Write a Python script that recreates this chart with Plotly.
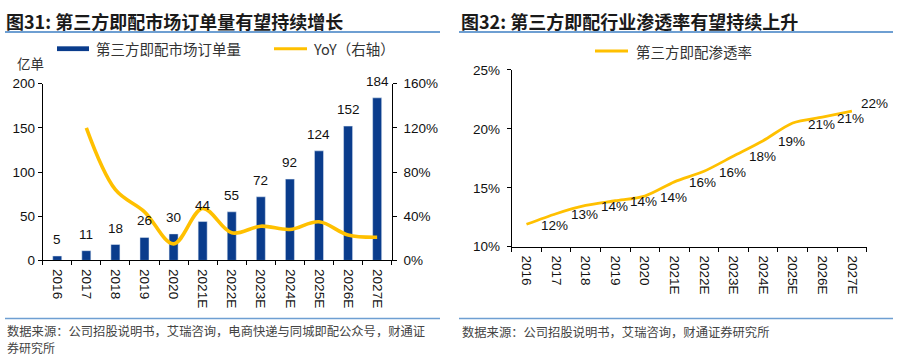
import plotly.graph_objects as go

# ---------------- data ----------------
years = ["2016", "2017", "2018", "2019", "2020", "2021E", "2022E",
         "2023E", "2024E", "2025E", "2026E", "2027E"]
orders = [5, 11, 18, 26, 30, 44, 55, 72, 92, 124, 152, 184]          # 亿单
yoy_years = years[1:]
yoy = [120, 64, 44, 15, 47, 25, 31, 28, 35, 23, 21]                    # %
penetration = [11.9, 12.8, 13.5, 13.9, 14.3, 15.5, 16.4, 17.7, 19.0, 20.5, 21.0, 21.5]
pen_labels = ["12%", "13%", "14%", "14%", "14%", "16%", "16%", "18%", "19%", "21%", "21%", "22%"]
left_ticks = [0, 50, 100, 150, 200]
yoy_ticks = [0, 40, 80, 120, 160]
pen_ticks = [10, 15, 20, 25]

W, H = 900, 364
def px(x): return x / W
def py(y): return 1 - y / H

NAVY = "#0A3C8C"
GOLD = "#FFC000"
RULE = "#6E9FD2"
LATIN = "Liberation Sans, Arial, sans-serif"
CJK = "Noto Sans CJK SC, sans-serif"

fig = go.Figure()

fig.add_trace(go.Bar(x=years, y=orders, marker_color=NAVY, width=0.31,
                     xaxis="x", yaxis="y", showlegend=False))
fig.add_trace(go.Scatter(x=yoy_years, y=yoy, mode="lines",
                         line=dict(color=GOLD, width=3.6, shape="spline", smoothing=1.0),
                         xaxis="x", yaxis="y2", showlegend=False))
fig.add_trace(go.Scatter(x=years, y=penetration, mode="lines",
                         line=dict(color=GOLD, width=2.8, shape="spline", smoothing=0.8),
                         xaxis="x3", yaxis="y3", showlegend=False))

axis_common = dict(showline=True, linecolor="#000", linewidth=1, ticks="outside",
                   ticklen=4, tickcolor="#000", showgrid=False, zeroline=False,
                   tickfont=dict(family=LATIN, size=13.5, color="#111"))

n = len(years)
fig.update_layout(
    width=W, height=H, margin=dict(l=0, r=0, t=0, b=0),
    paper_bgcolor="white", plot_bgcolor="white", showlegend=False,
    xaxis=dict(domain=[px(42.7), px(391.7)], anchor="y", type="category",
               categoryorder="array", categoryarray=years, range=[-0.5, n - 0.5],
               tickangle=90, tickson="boundaries", ticklabelstandoff=5, **axis_common),
    yaxis=dict(domain=[py(264.3), py(80)], anchor="x", range=[0, 200],
               tickvals=left_ticks, ticktext=[str(v) for v in left_ticks], **axis_common),
    yaxis2=dict(overlaying="y", side="right", anchor="x", range=[0, 160],
                tickvals=yoy_ticks, ticktext=[f"{v}%" for v in yoy_ticks],
                ticklabelstandoff=4, **axis_common),
    xaxis3=dict(domain=[px(511.7), px(866.7)], anchor="y3", type="category",
                categoryorder="array", categoryarray=years, range=[-0.5, n - 0.5],
                tickangle=90, tickson="boundaries", ticklabelstandoff=5, **axis_common),
    yaxis3=dict(domain=[py(250), py(65.7)], anchor="x3", range=[10, 25],
                tickvals=pen_ticks, ticktext=[f"{v}%" for v in pen_ticks],
                ticklabelstandoff=4, **axis_common),
)

ann = []
# bar value labels (category index positions)
for i, v in enumerate(orders):
    ann.append(dict(x=i, y=v, xref="x", yref="y", text=str(v), showarrow=False,
                    yanchor="bottom", yshift=7,
                    font=dict(family=LATIN, size=13.5, color="#111")))
# penetration labels
for i, (v, t) in enumerate(zip(penetration, pen_labels)):
    last = i == n - 1
    ann.append(dict(x=i, y=v, xref="x3", yref="y3", text=t, showarrow=False,
                    xanchor="left", yanchor="middle",
                    xshift=7 if last else 13, yshift=8 if last else -1,
                    font=dict(family=LATIN, size=13.5, color="#111")))

def text(x, y, s, size, anchor="left", weight=None, color="#222", family=CJK, yanchor="middle"):
    f = dict(family=family, size=size, color=color)
    if weight:
        f["weight"] = weight
    ann.append(dict(x=px(x), y=py(y), xref="paper", yref="paper", text=s,
                    showarrow=False, xanchor=anchor, yanchor=yanchor, align="left", font=f))

# titles
text(4, 15, "图31: 第三方即配市场订单量有望持续增长", 18, weight="bold", color="#1a1a1a")
text(459, 15, "图32: 第三方即配行业渗透率有望持续上升", 18, weight="bold", color="#1a1a1a")
# legends
text(94, 43.5, "第三方即配市场订单量", 14.5, color="#333")
text(311, 43.5, "YoY（右轴）", 14.5, color="#333")
text(634, 46, "第三方即配渗透率", 14.5, color="#333")
# unit
text(30, 58, "亿单", 13.5, anchor="center", color="#333")
# sources
text(5, 338, "数据来源：公司招股说明书，艾瑞咨询，电商快递与同城即配公众号，财通证", 12.3, color="#444")
text(5, 355.5, "券研究所", 12.0, color="#444")
text(460, 339, "数据来源：公司招股说明书，艾瑞咨询，财通证券研究所", 12.3, color="#444")

shapes = [
    dict(type="line", xref="paper", yref="paper", x0=px(5), x1=px(440), y0=py(26), y1=py(26),
         line=dict(color=RULE, width=2)),
    dict(type="line", xref="paper", yref="paper", x0=px(459), x1=px(893), y0=py(26), y1=py(26),
         line=dict(color=RULE, width=2)),
    dict(type="line", xref="paper", yref="paper", x0=px(5), x1=px(440), y0=py(325), y1=py(325),
         line=dict(color=RULE, width=1.5)),
    dict(type="line", xref="paper", yref="paper", x0=px(459), x1=px(893), y0=py(325), y1=py(325),
         line=dict(color=RULE, width=1.5)),
    dict(type="rect", xref="paper", yref="paper", x0=px(57), x1=px(89), y0=py(46), y1=py(41),
         fillcolor=NAVY, line=dict(width=0)),
    dict(type="line", xref="paper", yref="paper", x0=px(274), x1=px(307), y0=py(43.5), y1=py(43.5),
         line=dict(color=GOLD, width=3)),
    dict(type="line", xref="paper", yref="paper", x0=px(595), x1=px(628), y0=py(46), y1=py(46),
         line=dict(color=GOLD, width=3)),
]

fig.update_layout(annotations=ann, shapes=shapes)
fig.write_html("out.html")
